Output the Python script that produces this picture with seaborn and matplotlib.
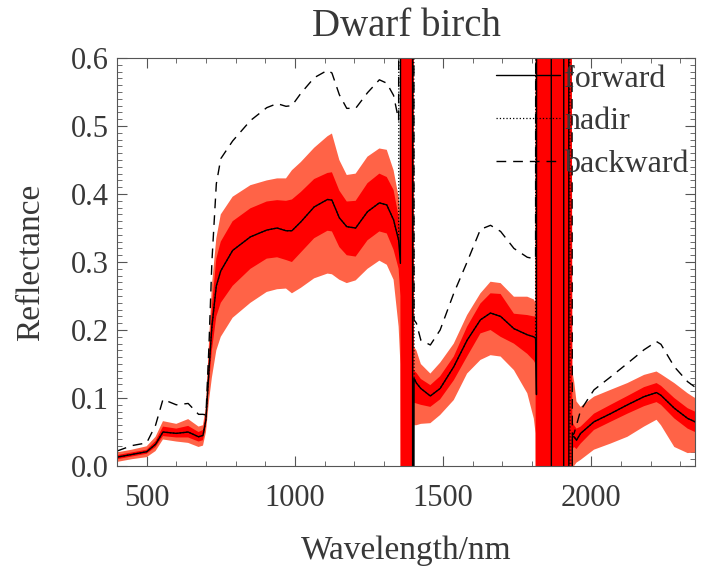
import matplotlib
matplotlib.use("Agg")
import matplotlib.pyplot as plt
import seaborn as sns
from matplotlib.lines import Line2D
from matplotlib.ticker import MultipleLocator, FormatStrFormatter

# wavelength knots (nm)
wl = [400, 450, 500, 530, 555, 600, 640, 675, 690, 700,
      710, 720, 735, 750, 790, 850, 905, 940, 970, 990,
      1020, 1065, 1110, 1125, 1150, 1175, 1205, 1245, 1285, 1310,
      1333, 1350, 1356, 1359, 1396, 1398, 1402, 1410, 1425, 1457,
      1490, 1536, 1581, 1626, 1660, 1694, 1739, 1784, 1806, 1812,
      1815, 1817, 1864, 1866, 1906, 1908, 1923, 1925, 1930, 1936,
      1942, 1950, 1964, 2009, 2065, 2122, 2178, 2220, 2235, 2280,
      2325, 2350]

# forward mean reflectance (water bands blow up off the scale)
forward = [0.013, 0.017, 0.021, 0.032, 0.050, 0.048, 0.050, 0.043, 0.045, 0.068,
           0.140, 0.205, 0.265, 0.287, 0.317, 0.337, 0.347, 0.350, 0.346, 0.346,
           0.359, 0.381, 0.392, 0.391, 0.365, 0.352, 0.350, 0.374, 0.387, 0.384,
           0.362, 0.332, 0.298, 3.0, 3.0, -2.0, 0.129, 0.122, 0.114, 0.103,
           0.114, 0.146, 0.185, 0.215, 0.225, 0.220, 0.202, 0.193, 0.190, 0.188,
           0.105, 3.0, 3.0, -2.0, -2.0, 3.0, 3.0, -2.0, -2.0, 0.043,
           0.043, 0.038, 0.048, 0.065, 0.077, 0.090, 0.102, 0.108, 0.104, 0.085,
           0.070, 0.065]

nadir = [0.013, 0.017, 0.021, 0.032, 0.050, 0.048, 0.050, 0.043, 0.045, 0.068,
         0.140, 0.205, 0.265, 0.287, 0.317, 0.337, 0.347, 0.350, 0.346, 0.346,
         0.359, 0.381, 0.392, 0.391, 0.365, 0.352, 0.350, 0.374, 0.387, 0.384,
         0.362, 0.332, 3.0, 3.0, 3.0, 3.0, 0.129, 0.122, 0.114, 0.103,
         0.114, 0.146, 0.185, 0.215, 0.225, 0.220, 0.202, 0.193, 0.190, 0.188,
         3.0, 3.0, 3.0, 3.0, 3.0, 3.0, 3.0, 3.0, -2.0, 0.043,
         0.043, 0.038, 0.048, 0.065, 0.077, 0.090, 0.102, 0.108, 0.104, 0.085,
         0.070, 0.065]

backward = [0.022, 0.030, 0.034, 0.060, 0.098, 0.090, 0.092, 0.076, 0.076, 0.075,
            0.175, 0.300, 0.415, 0.452, 0.478, 0.508, 0.527, 0.533, 0.529, 0.530,
            0.548, 0.571, 0.582, 0.578, 0.546, 0.526, 0.526, 0.549, 0.568, 0.563,
            0.545, 0.509, 3.0, 3.0, 3.0, 3.0, 0.215, 0.210, 0.185, 0.178,
            0.200, 0.254, 0.300, 0.348, 0.354, 0.345, 0.320, 0.307, 0.305, 0.305,
            3.0, 3.0, 3.0, 3.0, 3.0, 3.0, 3.0, 3.0, 3.0, 0.045,
            0.048, 0.060, 0.082, 0.112, 0.131, 0.151, 0.171, 0.183, 0.179, 0.146,
            0.124, 0.116]

# inner (dark red) envelope
inner_lo = [0.010, 0.014, 0.018, 0.028, 0.044, 0.042, 0.042, 0.036, 0.038, 0.060,
            0.120, 0.170, 0.220, 0.240, 0.265, 0.290, 0.305, 0.307, 0.303, 0.300,
            0.314, 0.335, 0.346, 0.345, 0.322, 0.310, 0.308, 0.332, 0.345, 0.342,
            0.318, 0.290, 0.250, -1, -1, -1, 0.093, 0.092, 0.090, 0.087,
            0.098, 0.126, 0.161, 0.195, 0.200, 0.190, 0.180, 0.165, 0.155, 0.150,
            -1, -1, -1, -1, -1, -1, -1, -1, -1, 0.025,
            0.028, 0.025, 0.033, 0.053, 0.065, 0.077, 0.088, 0.094, 0.090, 0.070,
            0.055, 0.050]
inner_hi = [0.016, 0.020, 0.024, 0.037, 0.058, 0.055, 0.059, 0.050, 0.053, 0.078,
            0.160, 0.235, 0.305, 0.330, 0.360, 0.379, 0.389, 0.391, 0.390, 0.392,
            0.403, 0.422, 0.431, 0.432, 0.405, 0.389, 0.390, 0.416, 0.430, 0.425,
            0.406, 0.367, 0.340, 2, 2, 2, 0.140, 0.137, 0.128, 0.119,
            0.132, 0.161, 0.205, 0.239, 0.254, 0.253, 0.224, 0.222, 0.220, 0.220,
            2, 2, 2, 2, 2, 2, 2, 2, 2, 0.065,
            0.060, 0.055, 0.058, 0.077, 0.090, 0.103, 0.116, 0.122, 0.118, 0.100,
            0.085, 0.080]

# outer (light red) envelope
outer_lo = [0.006, 0.010, 0.013, 0.022, 0.039, 0.036, 0.034, 0.028, 0.030, 0.050,
            0.095, 0.130, 0.170, 0.190, 0.218, 0.240, 0.256, 0.260, 0.261, 0.254,
            0.262, 0.276, 0.283, 0.282, 0.274, 0.269, 0.273, 0.290, 0.302, 0.296,
            0.274, 0.205, 0.150, -1, -1, -1, 0.060, 0.060, 0.062, 0.063,
            0.075, 0.097, 0.136, 0.156, 0.163, 0.161, 0.141, 0.107, 0.070, 0.048,
            -1, -1, -1, -1, -1, -1, -1, -1, -1, -0.010,
            0.000, 0.005, 0.009, 0.024, 0.033, 0.043, 0.058, 0.068, 0.060, 0.028,
            0.019, 0.020]
outer_hi = [0.020, 0.024, 0.029, 0.043, 0.066, 0.062, 0.069, 0.058, 0.060, 0.088,
            0.180, 0.265, 0.335, 0.370, 0.396, 0.413, 0.420, 0.423, 0.423, 0.435,
            0.447, 0.468, 0.485, 0.489, 0.450, 0.428, 0.430, 0.455, 0.467, 0.465,
            0.435, 0.396, 0.370, 2, 2, 2, 0.175, 0.170, 0.150, 0.136,
            0.152, 0.180, 0.222, 0.254, 0.271, 0.269, 0.249, 0.249, 0.245, 0.240,
            2, 2, 2, 2, 2, 2, 2, 2, 2, 0.140,
            0.125, 0.095, 0.087, 0.102, 0.112, 0.122, 0.134, 0.139, 0.135, 0.122,
            0.107, 0.100]

sns.set_style("ticks")
plt.rcParams['font.family'] = ['Liberation Serif', 'DejaVu Serif']
txt = "#383838"

fig = plt.figure(figsize=(7.02, 5.69), dpi=100)
ax = fig.add_axes([0.1667, 0.181, 0.8234, 0.717])

ax.fill_between(wl, outer_lo, outer_hi, color="#FF6347", lw=0)
ax.fill_between(wl, inner_lo, inner_hi, color="#FF0000", lw=0)

sns.lineplot(x=wl, y=backward, ax=ax, color="black", lw=1.0,
             estimator=None, sort=False)
ax.lines[-1].set_dashes((7, 5))
sns.lineplot(x=wl, y=nadir, ax=ax, color="black", lw=0.9,
             estimator=None, sort=False)
ax.lines[-1].set_linestyle(":")
sns.lineplot(x=wl, y=forward, ax=ax, color="black", lw=1.0,
             estimator=None, sort=False)

ax.set_xlim(400, 2350)
ax.set_ylim(0, 0.6)
ax.xaxis.set_major_locator(MultipleLocator(500))
ax.xaxis.set_minor_locator(MultipleLocator(100))
ax.yaxis.set_major_locator(MultipleLocator(0.1))
ax.yaxis.set_minor_locator(MultipleLocator(0.01))
ax.yaxis.set_major_formatter(FormatStrFormatter("%.1f"))
ax.tick_params(which="both", direction="in", top=True, right=True,
               colors="#555555", labelcolor=txt)
ax.tick_params(which="major", length=7, width=0.8, labelsize=22)
ax.tick_params(axis="x", which="major", pad=13)
ax.tick_params(axis="y", which="major", pad=6)
ax.tick_params(which="minor", length=3.5, width=0.6)
for s in ax.spines.values():
    s.set_color("#555555")
    s.set_linewidth(0.8)

ax.set_title("Dwarf birch", fontsize=28, color=txt, pad=16)
ax.set_xlabel("Wavelength/nm", fontsize=24, color=txt, labelpad=16)
ax.set_ylabel("Reflectance", fontsize=24, color=txt, labelpad=18)

handles = [Line2D([], [], color="black", lw=1.0, ls="-"),
           Line2D([], [], color="black", lw=0.9, ls=":"),
           Line2D([], [], color="black", lw=1.0, ls=(0, (7, 5)))]
ax.legend(handles, ["forward", "nadir", "backward"], loc="upper left",
          bbox_to_anchor=(0.655, 0.985), frameon=False, fontsize=23,
          handlelength=2.0, handletextpad=0.15, labelspacing=0.42,
          borderpad=0, borderaxespad=0, labelcolor=txt)

fig.savefig("out.png", dpi=100)
